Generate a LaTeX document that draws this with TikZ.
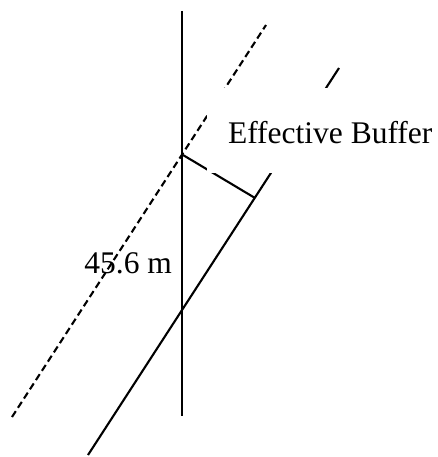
\documentclass[tikz,border=0pt]{standalone}
\usepackage{fontspec}
\setmainfont{Liberation Serif}
\begin{document}
\begin{tikzpicture}[x=1pt,y=-1pt,line width=2.1pt,
	buf/.style={dash pattern=on 7pt off 4pt},
	lbl/.style={font=\fontsize{31.5}{36}\selectfont,inner sep=0pt}]
	\useasboundingbox (0,0) rectangle (438,457);
	\coordinate (vtop) at (182,11);
	\coordinate (vbot) at (182,416);
	\coordinate (dtop) at (266,25);
	\coordinate (dbot) at (12,417);
	\coordinate (stop) at (339,68);
	\coordinate (sbot) at (88,455);
	\coordinate (p) at (183,155);
	\coordinate (q) at (255,198);
	\draw[line width=1.7pt] (vtop)--(vbot);
	\draw[buf] (dbot)--(dtop);
	\draw (sbot)--(stop);
	\draw (p)--(q);
	% label box hides the lines behind it
	\node[lbl,fill=white,anchor=base west,inner xsep=21pt,text height=56pt,text depth=29pt] (eb) at (206,144) {Effective Buffer};
	\node[lbl,anchor=base east] (dist) at (173,273) {45.6 m};
\end{tikzpicture}
\end{document}
